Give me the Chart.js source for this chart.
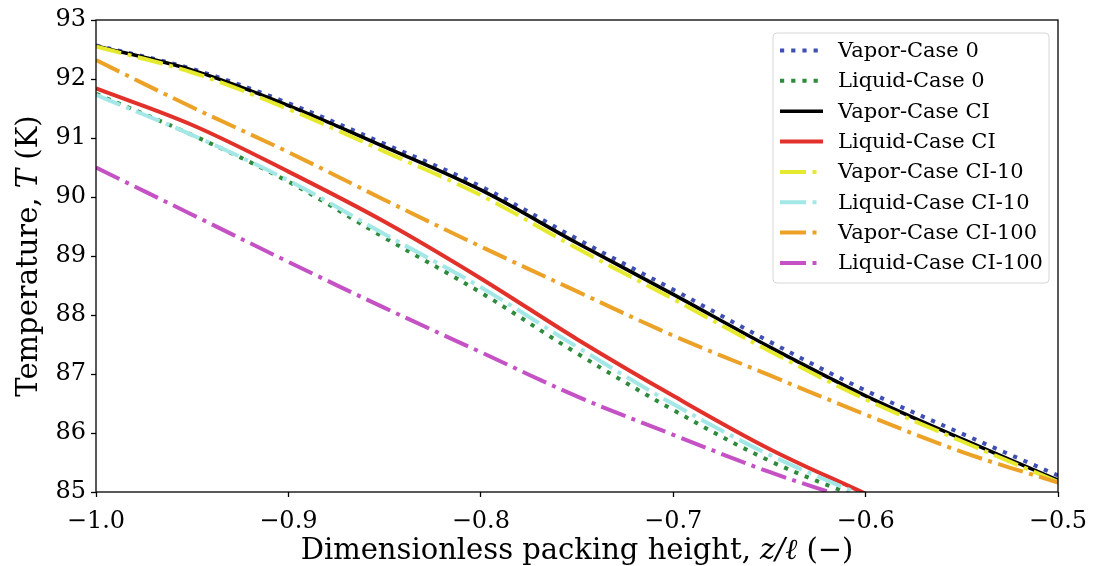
<!DOCTYPE html>
<html><head><meta charset="utf-8">
<script src="https://cdn.jsdelivr.net/npm/chart.js@4"></script>
<style>html,body{margin:0;padding:0;background:#fff}</style>
</head><body>
<canvas id="c" width="1094" height="566"></canvas>
<script>
// Dimensionless packing height positions
const zPos = [-1.0, -0.95, -0.9, -0.85, -0.8, -0.75, -0.7, -0.65, -0.6, -0.55, -0.5];
// Temperatures (K)
const vaporCase0    = [92.57, 92.17, 91.59, 90.90, 90.18, 89.29, 88.43, 87.55, 86.72, 85.99, 85.28];
const liquidCase0   = [91.75, 91.05, 90.26, 89.31, 88.38, 87.35, 86.39, 85.53, 84.86, null, null];
const vaporCaseCI   = [92.56, 92.15, 91.55, 90.85, 90.12, 89.22, 88.35, 87.46, 86.63, 85.90, 85.20];
const liquidCaseCI  = [91.84, 91.22, 90.43, 89.58, 88.62, 87.59, 86.63, 85.73, 84.97, null, null];
const vaporCaseCI10 = [92.55, 92.11, 91.49, 90.77, 90.03, 89.13, 88.27, 87.39, 86.57, 85.86, 85.17];
const liquidCaseCI10= [91.73, 91.05, 90.28, 89.37, 88.47, 87.46, 86.49, 85.63, 84.92, null, null];
const vaporCaseCI100= [92.32, 91.52, 90.76, 89.95, 89.16, 88.40, 87.65, 86.98, 86.31, 85.68, 85.16];
const liquidCaseCI100=[90.50, 89.70, 88.90, 88.12, 87.37, 86.62, 85.97, 85.34, 84.80, null, null];
const seriesLabels = ['Vapor-Case 0','Liquid-Case 0','Vapor-Case CI','Liquid-Case CI',
  'Vapor-Case CI-10','Liquid-Case CI-10','Vapor-Case CI-100','Liquid-Case CI-100'];
const xTicks = [-1.0, -0.9, -0.8, -0.7, -0.6, -0.5];
const yTicks = [85, 86, 87, 88, 89, 90, 91, 92, 93];

const seriesValues = [vaporCase0, liquidCase0, vaporCaseCI, liquidCaseCI,
  vaporCaseCI10, liquidCaseCI10, vaporCaseCI100, liquidCaseCI100];
const colors = ['#3f4fb3','#2e8b3c','#000000','#e2312a','#e6ea2e','#a3e8e6','#eba226','#c452c4'];
const LW = 4;
const dotted = [4.2, 7];
const dashdot = [26, 6.5, 4, 6.5];
const dashes = [dotted, dotted, [], [], dashdot, dashdot, dashdot, dashdot];

const datasets = seriesValues.map((vals, i) => ({
  label: seriesLabels[i],
  data: zPos.map((z, j) => ({x: z, y: vals[j]})),
  borderColor: colors[i],
  backgroundColor: colors[i],
  borderWidth: i === 2 ? 3.6 : LW,
  borderDash: dashes[i],
  borderCapStyle: 'butt',
  pointRadius: 0,
  tension: 0.35,
  fill: false,
  clip: 0,
  spanGaps: false,
  order: 10 - i
}));

const SERIF = '"DejaVu Serif", serif';

function drawMixed(ctx, parts, x, y, size) {
  let total = 0;
  parts.forEach(p => { ctx.font = (p[1] ? 'italic ' : '') + size + 'px ' + SERIF; p.w = ctx.measureText(p[0]).width; total += p.w; });
  let cx = x - total / 2;
  parts.forEach(p => { ctx.font = (p[1] ? 'italic ' : '') + size + 'px ' + SERIF; ctx.fillText(p[0], cx, y); cx += p.w; });
}

const decor = {
  id: 'decor',
  afterDraw(chart) {
    const ctx = chart.ctx, a = chart.chartArea;
    ctx.save();
    // frame
    ctx.strokeStyle = '#000'; ctx.lineWidth = 1.3;
    ctx.strokeRect(a.left, a.top, a.right - a.left, a.bottom - a.top);
    // axis titles
    ctx.fillStyle = '#000'; ctx.textAlign = 'left'; ctx.textBaseline = 'alphabetic';
    drawMixed(ctx, [['Dimensionless packing height, ', false], ['z/ℓ', true], [' (−)', false]], (a.left + a.right) / 2, 559, 29);
    ctx.save();
    ctx.translate(37, (a.top + a.bottom) / 2);
    ctx.rotate(-Math.PI / 2);
    drawMixed(ctx, [['Temperature, ', false], ['T', true], [' (K)', false]], 0, 0, 29);
    ctx.restore();
    // legend
    const bx = 773, by = 33, bw = 276, bh = 250, r = 4;
    ctx.beginPath();
    ctx.moveTo(bx + r, by); ctx.lineTo(bx + bw - r, by); ctx.arcTo(bx + bw, by, bx + bw, by + r, r);
    ctx.lineTo(bx + bw, by + bh - r); ctx.arcTo(bx + bw, by + bh, bx + bw - r, by + bh, r);
    ctx.lineTo(bx + r, by + bh); ctx.arcTo(bx, by + bh, bx, by + bh - r, r);
    ctx.lineTo(bx, by + r); ctx.arcTo(bx, by, bx + r, by, r); ctx.closePath();
    ctx.fillStyle = 'rgba(255,255,255,0.8)'; ctx.fill();
    ctx.strokeStyle = '#d6d6d6'; ctx.lineWidth = 1; ctx.stroke();
    chart.data.datasets.forEach((ds, i) => {
      const yy = 50.5 + i * 30.35;
      ctx.beginPath();
      ctx.setLineDash(ds.borderDash); ctx.lineDashOffset = 0;
      ctx.lineCap = 'butt';
      ctx.strokeStyle = ds.borderColor; ctx.lineWidth = ds.borderWidth;
      ctx.moveTo(780, yy); ctx.lineTo(823, yy); ctx.stroke();
      ctx.setLineDash([]);
      ctx.fillStyle = '#000'; ctx.font = '21px ' + SERIF; ctx.textBaseline = 'middle'; ctx.textAlign = 'left';
      ctx.fillText(ds.label, 838, yy + 1);
    });
    ctx.restore();
  }
};

new Chart(document.getElementById('c'), {
  type: 'line',
  data: { datasets },
  options: {
    responsive: false, animation: false, devicePixelRatio: 1,
    layout: { padding: { top: 20, right: 36, left: 0, bottom: 0 } },
    plugins: { legend: { display: false }, tooltip: { enabled: false } },
    scales: {
      x: {
        type: 'linear', min: -1.0, max: -0.5,
        afterBuildTicks: s => { s.ticks = xTicks.map(v => ({value: v})); },
        afterFit: s => { s.height = 74; s.paddingLeft = 0; s.paddingRight = 0; },
        border: { display: false },
        grid: { drawOnChartArea: false, drawTicks: true, tickLength: 5, tickWidth: 1.3, tickColor: '#000' },
        ticks: { autoSkip: false, maxRotation: 0, color: '#000', padding: 10,
          font: { family: SERIF, size: 24 },
          callback: v => (v < 0 ? '−' : '') + Math.abs(v).toFixed(1) }
      },
      y: {
        type: 'linear', min: 85, max: 93,
        afterBuildTicks: s => { s.ticks = yTicks.map(v => ({value: v})); },
        afterFit: s => { s.width = 96; s.paddingTop = 0; s.paddingBottom = 0; },
        border: { display: false },
        grid: { drawOnChartArea: false, drawTicks: true, tickLength: 5, tickWidth: 1.3, tickColor: '#000' },
        ticks: { color: '#000', padding: 5, font: { family: SERIF, size: 24 },
          callback: v => String(v) }
      }
    }
  },
  plugins: [decor]
});
</script>
</body></html>
